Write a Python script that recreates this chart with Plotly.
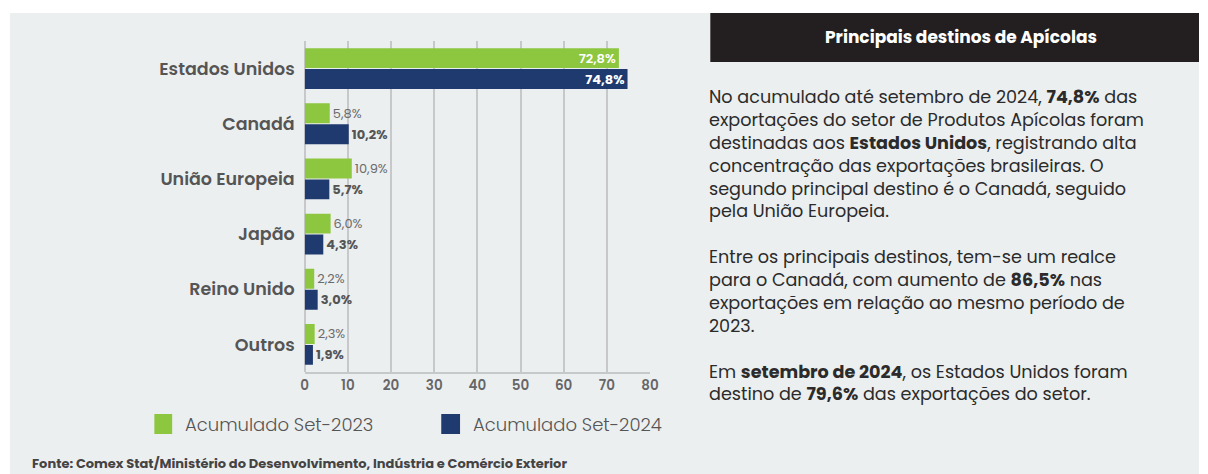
import plotly.graph_objects as go

W, H = 1208, 474

# data
destinos = ['Estados Unidos', 'Canadá', 'União Europeia', 'Japão', 'Reino Unido', 'Outros']
set_2023 = [72.8, 5.8, 10.9, 6.0, 2.2, 2.3]
set_2024 = [74.8, 10.2, 5.7, 4.3, 3.0, 1.9]
series_names = ['Acumulado Set-2023', 'Acumulado Set-2024']
x_ticks = [0, 10, 20, 30, 40, 50, 60, 70, 80]

GREEN = '#8dc63f'
NAVY = '#1f3a6e'
BG = '#eceff0'
FONT = 'Poppins, Open Sans, sans-serif'


def px_x(x):
    return x / W


def px_y(y):
    return 1 - y / H


def positions(vals):
    # the biggest bar carries its label inside, the rest outside
    return ['inside' if v > 40 else 'outside' for v in vals]


fig = go.Figure()
fig.add_trace(go.Bar(
    y=destinos, x=set_2023, orientation='h', name=series_names[0],
    marker=dict(color=GREEN, line=dict(width=0)),
    texttemplate='%{x:.1f}%', textposition=positions(set_2023),
    insidetextanchor='end', constraintext='none',
    insidetextfont=dict(color='white', size=13, family=FONT, weight=600),
    outsidetextfont=dict(color='#6b6b6b', size=13, family=FONT),
    cliponaxis=False, showlegend=False,
))
fig.add_trace(go.Bar(
    y=destinos, x=set_2024, orientation='h', name=series_names[1],
    marker=dict(color=NAVY, line=dict(width=0)),
    texttemplate='<b>%{x:.1f}%</b>', textposition=positions(set_2024),
    insidetextanchor='end', constraintext='none',
    insidetextfont=dict(color='white', size=13, family=FONT),
    outsidetextfont=dict(color='#555555', size=13, family=FONT),
    cliponaxis=False, showlegend=False,
))

shapes = [
    # grey panel
    dict(type='rect', xref='paper', yref='paper', x0=px_x(6), x1=1, y0=0, y1=px_y(13),
         fillcolor=BG, line=dict(width=0), layer='below'),
    # dark header box
    dict(type='rect', xref='paper', yref='paper', x0=px_x(714), x1=1, y0=px_y(62), y1=px_y(13),
         fillcolor='#231f20', line=dict(width=0), layer='below'),
    # legend swatches
    dict(type='rect', xref='paper', yref='paper', x0=px_x(152), x1=px_x(170), y0=px_y(434), y1=px_y(414),
         fillcolor=GREEN, line=dict(width=0)),
    dict(type='rect', xref='paper', yref='paper', x0=px_x(442), x1=px_x(461), y0=px_y(434), y1=px_y(414),
         fillcolor=NAVY, line=dict(width=0)),
]

texto = ('No acumulado até setembro de 2024, <b>74,8%</b> das<br>'
         'exportações do setor de Produtos Apícolas foram<br>'
         'destinadas aos <b>Estados Unidos</b>, registrando alta<br>'
         'concentração das exportações brasileiras. O<br>'
         'segundo principal destino é o Canadá, seguido<br>'
         'pela União Europeia.<br><br>'
         'Entre os principais destinos, tem-se um realce<br>'
         'para o Canadá, com aumento de <b>86,5%</b> nas<br>'
         'exportações em relação ao mesmo período de<br>'
         '2023.<br><br>'
         'Em <b>setembro de 2024</b>, os Estados Unidos foram<br>'
         'destino de <b>79,6%</b> das exportações do setor.')

annotations = [
    dict(text='<b>Principais destinos de Apícolas</b>', xref='paper', yref='paper',
         x=px_x(967), y=px_y(37), xanchor='center', yanchor='middle', showarrow=False,
         font=dict(family=FONT, size=17, color='white')),
    dict(text=texto, xref='paper', yref='paper', x=px_x(711), y=px_y(83),
         xanchor='left', yanchor='top', align='left', showarrow=False,
         font=dict(family=FONT, size=17.6, color='#2b2b2b')),
    dict(text=series_names[0], xref='paper', yref='paper', x=px_x(181), y=px_y(424),
         xanchor='left', yanchor='middle', showarrow=False,
         font=dict(family=FONT, size=18, color='#555555', weight=300)),
    dict(text=series_names[1], xref='paper', yref='paper', x=px_x(472), y=px_y(424),
         xanchor='left', yanchor='middle', showarrow=False,
         font=dict(family=FONT, size=18, color='#555555', weight=300)),
    dict(text='<b>Fonte: Comex Stat/Ministério do Desenvolvimento, Indústria e Comércio Exterior</b>',
         xref='paper', yref='paper', x=px_x(26), y=px_y(463),
         xanchor='left', yanchor='middle', showarrow=False,
         font=dict(family=FONT, size=13, color='#444444')),
]

fig.update_layout(
    width=W, height=H, autosize=False,
    margin=dict(l=0, r=0, t=0, b=0),
    paper_bgcolor='white', plot_bgcolor=BG,
    separators=',.',
    barmode='group', bargap=0.24, bargroupgap=0.05,
    shapes=shapes, annotations=annotations,
    font=dict(family=FONT),
    xaxis=dict(
        domain=[px_x(304), px_x(653)], range=[0, 80], tickvals=x_ticks,
        showgrid=True, gridcolor='#c6c8ca', gridwidth=1.5,
        showline=True, linecolor='#c6c8ca', linewidth=1.5,
        zeroline=True, zerolinecolor='#c6c8ca', zerolinewidth=1.5,
        ticks='', tickfont=dict(family=FONT, size=13.5, color='#666666', weight=600),
        fixedrange=True,
    ),
    yaxis=dict(
        domain=[px_y(372), px_y(41)], autorange='reversed',
        showgrid=False, showline=False, zeroline=False, ticks='',
        ticklabelstandoff=9,
        tickfont=dict(family=FONT, size=17.5, color='#555555', weight=600),
        fixedrange=True,
    ),
)

# drop the page margin and scrollbars so the figure sits at the window's corner
page_css = ("document.documentElement.style.overflow='hidden';"
            "document.body.style.margin='0';document.body.style.padding='0';"
            "document.body.style.overflow='hidden';")
fig.write_html('out.html',
               config={'displayModeBar': False, 'responsive': False},
               post_script=page_css)
